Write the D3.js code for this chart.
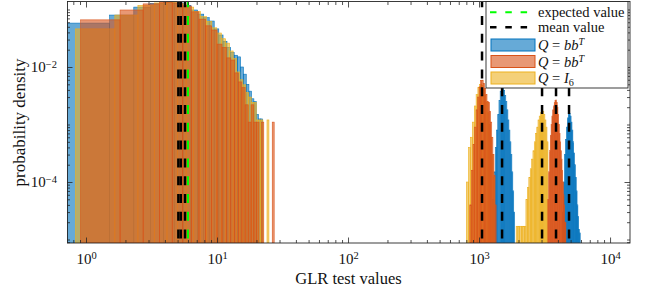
<!DOCTYPE html>
<html lang="en">
<head>
<meta charset="UTF-8">
<title>GLR test values histogram</title>
<script src="https://d3js.org/d3.v7.min.js"></script>
<style>
  body { margin: 0; background: #fff; }
  svg { display: block; font-family: "Liberation Serif", "DejaVu Serif", serif; }
  .axis .domain { display: none; }
  .axis line { stroke: #262626; stroke-width: 0.8; }
  .axis text { fill: #111; font-size: 15px; font-family: "Liberation Serif", serif; }
</style>
</head>
<body>
<script>
// ---- data: each histogram = first bin edge, bin width, density per bin ----
// low values (around the chi-square like bulk)
const lowBlueStart = 0.716, lowBlueWidth = 0.8;
const lowBlueDensity = [0.058, 0.080, 0.110, 0.128, 0.134, 0.130, 0.118, 0.098, 0.083, 0.072,
  0.063, 0.046, 0.036, 0.028, 0.022, 0.018, 0.016, 0.015, 0.010, 0.0075,
  0.005, 0.0038, 0.0028, 0.0025, 0.0015, 0.00125, 0.00125];

const lowYellowStart = 0.83, lowYellowWidth = 0.83;
const lowYellowDensity = [0.046, 0.080, 0.118, 0.130, 0.134, 0.125, 0.110, 0.092, 0.075, 0.062,
  0.048, 0.039, 0.031, 0.026, 0.019, 0.014, 0.0082, 0.006, 0.0049, 0.0036,
  0.003, 0.0024, 0.0024, 0.0012, 0.0012, 0.0012, 0, 0, 0.0012];

const lowOrangeStart = 0.91, lowOrangeWidth = 0.91;
const lowOrangeDensity = [0.066, 0.098, 0.125, 0.135, 0.130, 0.115, 0.091, 0.068, 0.052, 0.044,
  0.025, 0.022, 0.0144, 0.0132, 0.0079, 0.0055, 0.0044, 0.0022, 0.0011, 0.0022,
  0.0011, 0.0011, 0, 0.0011, 0, 0, 0, 0, 0.0011];

// high values (separated peaks)
const peakBlue1Start = 1270, peakBlue1Width = 30;
const peakBlue1Density = [5e-5, 1.5e-4, 4e-4, 8e-4, 0.0015, 0.0026, 0.0038, 0.0045, 0.0044, 0.0039,
  0.0032, 0.0025, 0.0018, 0.0012, 8e-4, 5e-4, 3e-4, 1.5e-4, 7e-5, 3e-5];

const peakBlue2Start = 4320, peakBlue2Width = 80;
const peakBlue2Density = [3e-5, 1e-4, 3e-4, 5.5e-4, 9e-4, 0.0013, 0.00155, 0.00157, 0.0014, 0.0011,
  8e-4, 5e-4, 3.2e-4, 2e-4, 1.2e-4, 7e-5, 4e-5, 2.5e-5, 1.5e-5, 1.3e-5];

const peakYellow1Start = 800, peakYellow1Width = 30;
const peakYellow1Density = [1e-4, 4e-4, 6e-4, 0.0011, 0.0021, 0.0033, 0.0044, 0.0050, 0.0048, 0.0040,
  0.0032, 0.0024, 0.0016, 0.0010, 6e-4, 3e-4, 1.2e-4];

const peakYellow2Start = 1920, peakYellow2Width = 60;
const peakYellow2Density = [1.7e-5, 1.7e-5, 1.7e-5, 1.7e-5, 1.7e-5, 1.7e-5, 5e-5, 8e-5, 1.2e-4, 1.7e-4,
  2.5e-4, 3.5e-4, 5e-4, 7e-4, 9e-4, 0.0012, 0.0014, 0.0016, 0.0017, 0.0017,
  0.0015, 0.0012, 9e-4, 5e-4];

const peakOrange1Start = 850, peakOrange1Width = 25;
const peakOrange1Density = [4e-5, 1.6e-4, 4.5e-4, 9e-4, 0.0018, 0.0030, 0.0045, 0.0058, 0.0059, 0.0052,
  0.0042, 0.0033, 0.0025, 0.0024, 0.0017, 0.0011, 6e-4, 3e-4, 1.3e-4, 4e-5];

const peakOrange2Start = 3350, peakOrange2Width = 50;
const peakOrange2Density = [5e-5, 1.5e-4, 3.5e-4, 6.5e-4, 0.0010, 0.0014, 0.0018, 0.0021, 0.0024, 0.0026,
  0.00267, 0.0024, 0.0020, 0.0015, 0.0010, 7e-4, 5e-4, 3.5e-4, 2.5e-4, 1.6e-4,
  1e-4, 6e-5, 4e-5, 2e-5, 2e-5];

const meanValues = [5.07, 5.29, 5.70, 1054, 1499, 3027, 3870, 4864];
const expectedValues = [6];

const legendLabels = ["expected value", "mean value", "Q = bb^T", "Q = bb^T", "Q = I_6"];
const xTickExponents = [0, 1, 2, 3, 4];
const yTickExponents = [-4, -2];

// ---- layout ----
const W = 648, H = 293;
const pLeft = 67, pRight = 630, pTop = 2, pBottom = 243;
const blue = "#0072BD", orange = "#D95319", yellow = "#EDB120", green = "#00FF00";

const x = d3.scaleLog().domain([0.716, 14200]).range([pLeft, pRight]);
const y = d3.scaleLog().domain([8.7e-6, 0.135]).range([pBottom, pTop]);

const svg = d3.select("body").append("svg").attr("width", W).attr("height", H);

svg.append("clipPath").attr("id", "clip")
  .append("rect").attr("x", pLeft).attr("y", pTop).attr("width", pRight - pLeft).attr("height", pBottom - pTop);

// draw order: blue, yellow, orange (orange sits on top)
const hists = [
  [blue, lowBlueStart, lowBlueWidth, lowBlueDensity],
  [blue, peakBlue1Start, peakBlue1Width, peakBlue1Density],
  [blue, peakBlue2Start, peakBlue2Width, peakBlue2Density],
  [yellow, lowYellowStart, lowYellowWidth, lowYellowDensity],
  [yellow, peakYellow1Start, peakYellow1Width, peakYellow1Density],
  [yellow, peakYellow2Start, peakYellow2Width, peakYellow2Density],
  [orange, lowOrangeStart, lowOrangeWidth, lowOrangeDensity],
  [orange, peakOrange1Start, peakOrange1Width, peakOrange1Density],
  [orange, peakOrange2Start, peakOrange2Width, peakOrange2Density]
];

const plot = svg.append("g").attr("clip-path", "url(#clip)");

hists.forEach(([color, start, width, dens]) => {
  const bins = dens.map((d, i) => ({ x0: start + i * width, x1: start + (i + 1) * width, d }))
    .filter(b => b.d > 0);
  plot.append("g").selectAll("rect")
    .data(bins)
    .join("rect")
    .attr("x", b => x(b.x0))
    .attr("width", b => x(b.x1) - x(b.x0))
    .attr("y", b => y(b.d))
    .attr("height", b => pBottom - y(b.d))
    .attr("fill", color)
    .attr("fill-opacity", 0.6)
    .attr("stroke", color)
    .attr("stroke-width", 0.6);
});

// mean / expected lines
plot.append("g").selectAll("line")
  .data(meanValues)
  .join("line")
  .attr("x1", d => x(d)).attr("x2", d => x(d))
  .attr("y1", pTop).attr("y2", pBottom)
  .attr("stroke", "#000").attr("stroke-width", 2.5)
  .attr("stroke-dasharray", "9 8.8").attr("stroke-dashoffset", 3.8);

plot.append("g").selectAll("line")
  .data(expectedValues)
  .join("line")
  .attr("x1", d => x(d)).attr("x2", d => x(d))
  .attr("y1", pTop).attr("y2", pBottom)
  .attr("stroke", green).attr("stroke-width", 2)
  .attr("stroke-dasharray", "9 8.8").attr("stroke-dashoffset", 3.8);

// ---- axes ----
const xMajor = xTickExponents.map(e => Math.pow(10, e));
const xMinor = [];
for (let e = -1; e <= 4; e++) for (let k = 2; k <= 9; k++) {
  const v = k * Math.pow(10, e);
  if (v > x.domain()[0] && v < x.domain()[1]) xMinor.push(v);
}
const yMajor = yTickExponents.map(e => Math.pow(10, e));
const yMinor = [];
for (let e = -6; e <= -1; e++) for (let k = 1; k <= 9; k++) {
  const v = k * Math.pow(10, e);
  if (k === 1 && yTickExponents.includes(e)) continue;
  if (v > y.domain()[0] && v < y.domain()[1]) yMinor.push(v);
}

function supLabel(sel) {
  sel.each(function (d) {
    const t = d3.select(this);
    const e = Math.round(Math.log10(d));
    t.text(null);
    t.append("tspan").text("10");
    t.append("tspan").attr("dy", "-0.45em").attr("font-size", "0.7em")
      .text(String(e).replace("-", "\u2212"));
  });
}

svg.append("g").attr("class", "axis").attr("transform", `translate(0,${pBottom})`)
  .call(d3.axisBottom(x).tickValues(xMinor).tickSize(-3).tickFormat(""));
svg.append("g").attr("class", "axis").attr("transform", `translate(0,${pTop})`)
  .call(d3.axisTop(x).tickValues(xMinor).tickSize(-3).tickFormat(""));
svg.append("g").attr("class", "axis").attr("transform", `translate(0,${pTop})`)
  .call(d3.axisTop(x).tickValues(xMajor).tickSize(-5.5).tickFormat(""));
svg.append("g").attr("class", "axis").attr("transform", `translate(0,${pBottom})`)
  .call(d3.axisBottom(x).tickValues(xMajor).tickSize(-5.5).tickPadding(10))
  .selectAll("text").call(supLabel);

svg.append("g").attr("class", "axis").attr("transform", `translate(${pLeft},0)`)
  .call(d3.axisLeft(y).tickValues(yMinor).tickSize(-3).tickFormat(""));
svg.append("g").attr("class", "axis").attr("transform", `translate(${pRight},0)`)
  .call(d3.axisRight(y).tickValues(yMinor).tickSize(-3).tickFormat(""));
svg.append("g").attr("class", "axis").attr("transform", `translate(${pRight},0)`)
  .call(d3.axisRight(y).tickValues(yMajor).tickSize(-5.5).tickFormat(""));
svg.append("g").attr("class", "axis").attr("transform", `translate(${pLeft},0)`)
  .call(d3.axisLeft(y).tickValues(yMajor).tickSize(-5.5).tickPadding(10))
  .selectAll("text").call(supLabel);

svg.append("rect")
  .attr("x", pLeft + 0.5).attr("y", pTop - 0.5)
  .attr("width", pRight - pLeft - 0.5).attr("height", pBottom - pTop + 0.5)
  .attr("fill", "none").attr("stroke", "#262626").attr("stroke-width", 0.9);

// axis titles
svg.append("text")
  .attr("x", (pLeft + pRight) / 2).attr("y", 284)
  .attr("text-anchor", "middle").attr("font-size", 16.5).attr("fill", "#111")
  .text("GLR test values");
svg.append("text")
  .attr("transform", `translate(25,${(pTop + pBottom) / 2}) rotate(-90)`)
  .attr("text-anchor", "middle").attr("font-size", 17).attr("fill", "#111")
  .text("probability density");

// ---- legend ----
const lg = svg.append("g").attr("transform", "translate(486,1.5)");
lg.append("rect").attr("width", 142).attr("height", 86.5)
  .attr("fill", "#fff").attr("stroke", "#262626").attr("stroke-width", 0.9);

const rowY = [10.8, 25.8, 43.5, 60, 76.5];
lg.append("line").attr("x1", 4).attr("x2", 49).attr("y1", rowY[0]).attr("y2", rowY[0])
  .attr("stroke", green).attr("stroke-width", 2).attr("stroke-dasharray", "6.5 8.8");
lg.append("line").attr("x1", 4).attr("x2", 49).attr("y1", rowY[1]).attr("y2", rowY[1])
  .attr("stroke", "#000").attr("stroke-width", 2.5).attr("stroke-dasharray", "6.5 8.8");
[blue, orange, yellow].forEach((c, i) => {
  lg.append("rect").attr("x", 5).attr("y", rowY[i + 2] - 6).attr("width", 44).attr("height", 12)
    .attr("fill", c).attr("fill-opacity", 0.6).attr("stroke", c).attr("stroke-width", 1);
});

legendLabels.forEach((lab, i) => {
  const t = lg.append("text").attr("x", 52).attr("y", rowY[i] + 5)
    .attr("font-size", 14.5).attr("fill", "#111");
  if (!lab.startsWith("Q")) { t.text(lab); return; }
  const rhs = lab.split(" = ")[1];
  t.append("tspan").attr("font-style", "italic").text("Q");
  t.append("tspan").text(" = ");
  if (rhs.includes("^")) {
    t.append("tspan").attr("font-style", "italic").text(rhs.split("^")[0]);
    t.append("tspan").attr("font-style", "italic").attr("font-size", "0.7em").attr("dy", "-0.45em").text(rhs.split("^")[1]);
  } else {
    t.append("tspan").attr("font-style", "italic").text(rhs.split("_")[0]);
    t.append("tspan").attr("font-size", "0.7em").attr("dy", "0.3em").text(rhs.split("_")[1]);
  }
});
</script>
</body>
</html>
